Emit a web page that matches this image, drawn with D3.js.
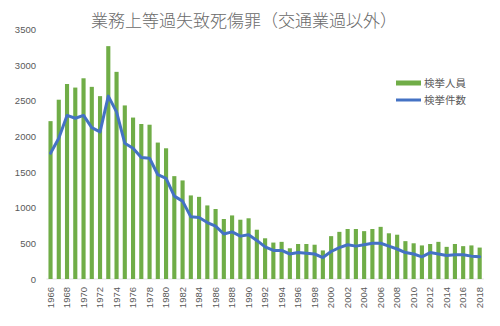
<!DOCTYPE html>
<html><head><meta charset="utf-8">
<script src="https://cdn.jsdelivr.net/npm/d3@7"></script>
<style>
html,body{margin:0;padding:0;background:#fff;}
text{font-family:"Noto Sans CJK JP","Noto Sans",sans-serif;}
</style></head>
<body><svg id="chart" width="500" height="326"></svg>
<script>
const years = d3.range(1966, 2019);
const persons = [2210,2510,2730,2680,2810,2690,2560,3260,2900,2430,2260,2170,2160,
  1910,1830,1440,1380,1170,1150,1030,980,840,890,830,850,690,570,510,520,430,
  490,490,480,400,600,660,700,700,670,700,730,640,620,530,500,470,490,520,450,490,460,470,440];
const cases = [1760,1970,2290,2250,2290,2120,2060,2560,2340,1900,1830,1700,1690,
  1460,1410,1160,1090,870,860,790,740,630,660,600,620,540,450,400,400,350,
  370,360,350,300,385,440,480,460,480,500,500,460,420,370,350,310,370,350,330,340,340,320,310];
const yTicks = [0,500,1000,1500,2000,2500,3000,3500];
const xTickYears = years.filter(y => (y - 1966) % 2 === 0);
const title = "業務上等過失致死傷罪（交通業過以外）";
const seriesNames = ["検挙人員", "検挙件数"];

const svg = d3.select("#chart");
const x = d3.scaleBand().domain(years).range([46.4, 483.8]).paddingInner(0.5).paddingOuter(0.25);
const y = d3.scaleLinear().domain([0, 3500]).range([279, 29]);

// baseline
svg.append("line").attr("x1", 46.4).attr("x2", 483.8).attr("y1", y(0)).attr("y2", y(0))
  .attr("stroke", "#e3e3e3").attr("stroke-width", 1);

// bars
svg.append("g").selectAll("rect").data(years).join("rect")
  .attr("x", d => x(d)).attr("width", x.bandwidth())
  .attr("y", (d, i) => y(persons[i])).attr("height", (d, i) => y(0) - y(persons[i]))
  .attr("fill", "#70ad47");

// line
const line = d3.line().x((d, i) => x(years[i]) + x.bandwidth() / 2).y(d => y(d));
svg.append("path").datum(cases).attr("d", line).attr("fill", "none")
  .attr("stroke", "#4472c4").attr("stroke-width", 3).attr("stroke-linejoin", "round").attr("stroke-linecap", "round");

// y axis
const yAxis = d3.axisLeft(y).tickValues(yTicks).tickFormat(d3.format("d")).tickSize(0).tickPadding(0);
const gy = svg.append("g").attr("transform", "translate(36,0)").call(yAxis);
gy.select(".domain").remove();
gy.selectAll("text").attr("fill", "#595959").style("font-size", "9.5px").attr("dy", "0.35em")
  .style("font-family", "'Liberation Sans','DejaVu Sans',sans-serif");

// x axis
const xAxis = d3.axisBottom(x).tickValues(xTickYears).tickSize(0).tickPadding(0);
const gx = svg.append("g").attr("transform", `translate(0,${y(0)})`).call(xAxis);
gx.select(".domain").remove();
gx.selectAll("text").attr("fill", "#595959").style("font-size", "9.5px")
  .style("font-family", "'Liberation Sans','DejaVu Sans',sans-serif")
  .attr("transform", "rotate(-90)").attr("text-anchor", "end")
  .attr("x", -8).attr("y", 0).attr("dy", "0.35em");

// title
svg.append("text").attr("x", 244).attr("y", 27).attr("text-anchor", "middle")
  .attr("fill", "#6a6a6a").style("font-size", "17px").style("font-weight", "300").text(title);

// legend
const lg = svg.append("g");
lg.append("rect").attr("x", 396).attr("y", 80.5).attr("width", 25).attr("height", 5).attr("fill", "#70ad47");
lg.append("text").attr("x", 424).attr("y", 83).attr("dy", "0.35em").attr("fill", "#595959")
  .style("font-size", "10.5px").text(seriesNames[0]);
lg.append("line").attr("x1", 396).attr("x2", 421).attr("y1", 100).attr("y2", 100)
  .attr("stroke", "#4472c4").attr("stroke-width", 3);
lg.append("text").attr("x", 424).attr("y", 100).attr("dy", "0.35em").attr("fill", "#595959")
  .style("font-size", "10.5px").text(seriesNames[1]);
</script></body></html>
